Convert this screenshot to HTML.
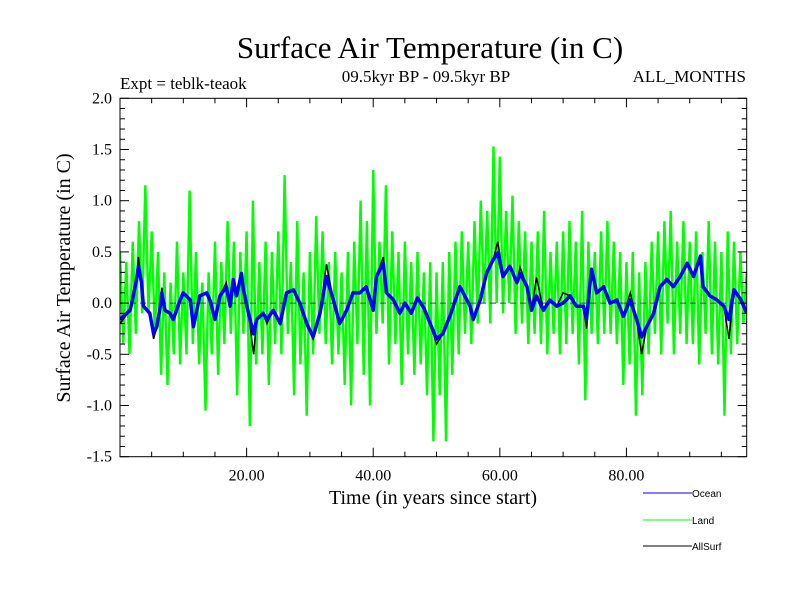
<!DOCTYPE html>
<html><head><meta charset="utf-8"><style>
body{margin:0;background:#fff}
svg{display:block;font-family:"Liberation Serif",serif}
</style></head><body>
<svg id="chart" width="800" height="600" viewBox="0 0 800 600">
<rect width="800" height="600" fill="#fff"/>
<text x="430" y="58" font-size="31" text-anchor="middle">Surface Air Temperature (in C)</text>
<text x="120" y="89" font-size="17">Expt = teblk-teaok</text>
<text x="426" y="82" font-size="17" text-anchor="middle">09.5kyr BP - 09.5kyr BP</text>
<text x="746" y="82" font-size="17" text-anchor="end">ALL_MONTHS</text>
<text transform="translate(70,278) rotate(-90)" font-size="20" text-anchor="middle">Surface Air Temperature (in C)</text>
<text x="433" y="504" font-size="20" text-anchor="middle">Time (in years since start)</text>
<g id="plot"></g>
<g id="axes"></g>
<g font-family="Liberation Sans, sans-serif" font-size="10">
<g><line x1="643" y1="493" x2="692" y2="493" stroke="#0000ff"/><text x="692" y="497">Ocean</text></g>
<g><line x1="643" y1="520" x2="692" y2="520" stroke="#00ff00"/><text x="692" y="524">Land</text></g>
<g><line x1="643" y1="546" x2="692" y2="546" stroke="#000"/><text x="692" y="550">AllSurf</text></g>
</g>
</svg>
<script>
const xTicks=[20,40,60,80];
const xTickLabels=["20.00","40.00","60.00","80.00"];
const yTicks=[-1.5,-1.0,-0.5,0.0,0.5,1.0,1.5,2.0];
const yTickLabels=["-1.5","-1.0","-0.5","0.0","0.5","1.0","1.5","2.0"];
const landStep=0.5;
const landVals=[
0.5,-0.4,0.4,-0.5,0.6,-0.3,0.8,-0.1,1.15,-0.1,
0.7,-0.3,0.5,-0.7,0.3,-0.8,0.2,-0.5,0.6,-0.6,
0.3,-0.5,1.1,-0.4,0.5,-0.6,0.2,-1.05,0.3,-0.5,
0.6,-0.7,0.4,-0.4,0.8,-0.3,0.6,-0.9,0.5,-0.3,
0.7,-1.2,1.0,-0.6,0.4,-0.5,0.6,-0.8,0.5,-0.4,
0.7,-0.5,1.25,-0.3,0.4,-0.9,0.8,-0.6,0.3,-1.1,
0.5,-0.5,0.85,-0.3,0.7,-0.4,0.4,-0.6,0.5,-0.5,
0.3,-0.8,0.5,-1.0,0.6,-0.4,1.0,-0.7,0.8,-1.0,
1.3,-0.3,0.6,-0.2,1.15,-0.6,0.7,-0.4,0.5,-0.8,
0.6,-0.5,0.4,-0.7,0.5,-0.6,0.3,-0.9,0.4,-1.35,
0.3,-0.9,0.4,-1.35,0.5,-0.7,0.6,-0.5,0.7,-0.3,
0.6,-0.4,0.8,-0.2,1.0,0.0,0.9,-0.2,1.53,0.0,
1.43,-0.1,0.9,0.0,1.05,-0.3,0.8,-0.2,0.7,-0.4,
0.6,-0.3,0.7,-0.4,0.9,-0.5,0.5,-0.3,0.6,-0.5,
0.7,-0.4,0.8,-0.3,0.6,-0.6,0.9,-0.95,0.6,-0.3,
0.5,-0.4,0.7,-0.3,0.8,-0.3,0.6,-0.4,0.5,-0.8,
0.4,-0.6,0.5,-1.1,0.3,-0.9,0.4,-0.5,0.6,-0.3,
0.7,-0.5,0.8,-0.2,0.9,-0.5,0.6,-0.3,0.8,-0.4,
0.6,-0.4,0.7,-0.6,0.5,-0.3,0.8,-0.5,0.6,-0.6,
0.5,-1.1,0.7,-0.5,0.6,-0.4,0.5,-0.2,0.3];
const oceanYears=[
0,1.6,2.1,2.6,2.9,3.4,3.7,4.7,5.3,5.8,
6.3,6.6,7.1,7.9,8.4,9.5,10,11.1,11.6,12.6,
13.7,14.2,15,15.8,16.8,17.4,17.9,18.4,19.2,19.5,
20.3,21.1,21.6,22.6,23.2,24.2,25.3,26.3,27.4,28.4,
29.5,30.5,31.6,32.6,33.7,34.7,35.8,36.8,37.9,38.9,
40,40.5,41.6,42.1,43.2,44.2,45,46,47,48,
49,50,51,52.1,53.7,55.3,55.8,56.9,57.9,58.9,
59.7,60.5,61.6,62.7,63.2,64.3,65,65.8,66.9,67.9,
69,70,71.1,72.1,73.2,73.7,74.2,74.5,75.3,76.4,
77.4,78.5,79.5,80.6,81.6,82.4,83.2,84.3,85.3,86.4,
87.4,88.5,89.6,90.6,91.7,92.1,93.2,94.3,95.4,96.2,
97,98.1,99];
const oceanVals=[
-0.16,-0.07,0.07,0.23,0.36,0.2,-0.03,-0.1,-0.3,-0.23,
-0.06,0.1,-0.07,-0.1,-0.16,0.03,0.1,0.03,-0.23,0.07,
0.1,0.03,-0.16,0.07,0.16,-0.03,0.23,0.07,0.29,0.13,
-0.1,-0.3,-0.16,-0.1,-0.16,-0.07,-0.2,0.1,0.13,0.0,
-0.2,-0.33,-0.1,0.26,0.03,-0.2,-0.07,0.1,0.1,0.16,
-0.07,0.26,0.39,0.1,0.03,-0.1,0.0,-0.1,0.05,-0.05,
-0.2,-0.35,-0.3,-0.13,0.16,-0.03,-0.16,0.03,0.29,0.42,
0.49,0.26,0.36,0.2,0.29,0.16,-0.07,0.07,-0.07,0.03,
-0.03,0.0,0.07,-0.03,-0.03,-0.16,0.16,0.33,0.1,0.16,
0.0,0.03,-0.13,0.03,-0.16,-0.33,-0.23,-0.1,0.16,0.23,
0.16,0.26,0.39,0.26,0.46,0.16,0.07,0.03,-0.03,-0.16,
0.13,0.03,-0.1];
const allVals=[
-0.2,-0.07,0.07,0.23,0.45,0.2,-0.03,-0.1,-0.35,-0.23,
-0.06,0.15,-0.07,-0.1,-0.16,0.03,0.1,0.03,-0.23,0.07,
0.1,0.03,-0.16,0.07,0.2,-0.03,0.23,0.07,0.3,0.13,
-0.1,-0.5,-0.16,-0.1,-0.2,-0.07,-0.2,0.1,0.13,0.0,
-0.2,-0.35,-0.1,0.38,0.03,-0.2,-0.07,0.1,0.1,0.16,
-0.07,0.26,0.45,0.1,0.03,-0.1,0.0,-0.1,0.05,-0.05,
-0.2,-0.4,-0.3,-0.13,0.16,-0.03,-0.16,0.03,0.29,0.42,
0.6,0.26,0.36,0.2,0.35,0.16,-0.07,0.25,-0.07,0.03,
-0.03,0.1,0.07,-0.03,-0.03,-0.25,0.16,0.33,0.1,0.16,
0.0,0.03,-0.13,0.1,-0.16,-0.5,-0.23,-0.1,0.16,0.23,
0.16,0.26,0.39,0.26,0.46,0.16,0.07,0.03,-0.03,-0.35,
0.13,0.03,-0.1];

const L=120,R=746.7,T=98.3,B=456.7,XMIN=0,XMAX=99,YMIN=-1.5,YMAX=2.0;
const xs=v=>L+(v-XMIN)/(XMAX-XMIN)*(R-L);
const ys=v=>B-(v-YMIN)/(YMAX-YMIN)*(B-T);
const NS="http://www.w3.org/2000/svg";
const plot=document.getElementById('plot'),axes=document.getElementById('axes');
function mk(tag,attrs,parent){const e=document.createElementNS(NS,tag);for(const k in attrs)e.setAttribute(k,attrs[k]);parent.appendChild(e);return e;}

const clip=mk('clipPath',{id:'clp'},plot);mk('rect',{x:L,y:T,width:R-L,height:B-T},clip);
const g=mk('g',{'clip-path':'url(#clp)'},plot);

const landPts=landVals.map((v,i)=>xs(i*landStep).toFixed(1)+','+ys(v).toFixed(1)).join(' ');
const land=mk('polyline',{points:landPts,fill:'none',stroke:'#00ff00','stroke-width':2.4},g);



const zero=mk('line',{x1:L,x2:R,y1:ys(0),y2:ys(0),stroke:'#444','stroke-dasharray':'6,4','stroke-width':1},g);



const allPts=oceanYears.map((y,i)=>xs(y).toFixed(1)+','+ys(allVals[i]).toFixed(1)).join(' ');
const all=mk('polyline',{points:allPts,fill:'none',stroke:'#000','stroke-width':1.5},g);



const ocPts=oceanYears.map((y,i)=>xs(y).toFixed(1)+','+ys(oceanVals[i]).toFixed(1)).join(' ');
const oc=mk('polyline',{points:ocPts,fill:'none',stroke:'#0000ff','stroke-width':3.5,'stroke-linejoin':'round'},g);



mk('rect',{x:L,y:T,width:R-L,height:B-T,fill:'none',stroke:'#000','stroke-width':1},axes);
for(let v=5;v<XMAX;v+=5){const x=xs(v),len=(v%20===0)?9:5;
 mk('line',{x1:x,x2:x,y1:B,y2:B-len,stroke:'#000'},axes);
 mk('line',{x1:x,x2:x,y1:T,y2:T+len,stroke:'#000'},axes);}
for(let k=-15;k<=20;k++){const y=ys(k/10),len=(k%5===0)?9:5;
 mk('line',{x1:L,x2:L+len,y1:y,y2:y,stroke:'#000'},axes);
 mk('line',{x1:R,x2:R-len,y1:y,y2:y,stroke:'#000'},axes);}
xTicks.forEach((v,i)=>{const t=mk('text',{x:xs(v),y:B+24,'font-size':16,'text-anchor':'middle'},axes);t.textContent=xTickLabels[i];
 
 });
yTicks.forEach((v,i)=>{const t=mk('text',{x:L-8,y:ys(v)+5,'font-size':16,'text-anchor':'end'},axes);t.textContent=yTickLabels[i];
 
 });
</script>
</body></html>
